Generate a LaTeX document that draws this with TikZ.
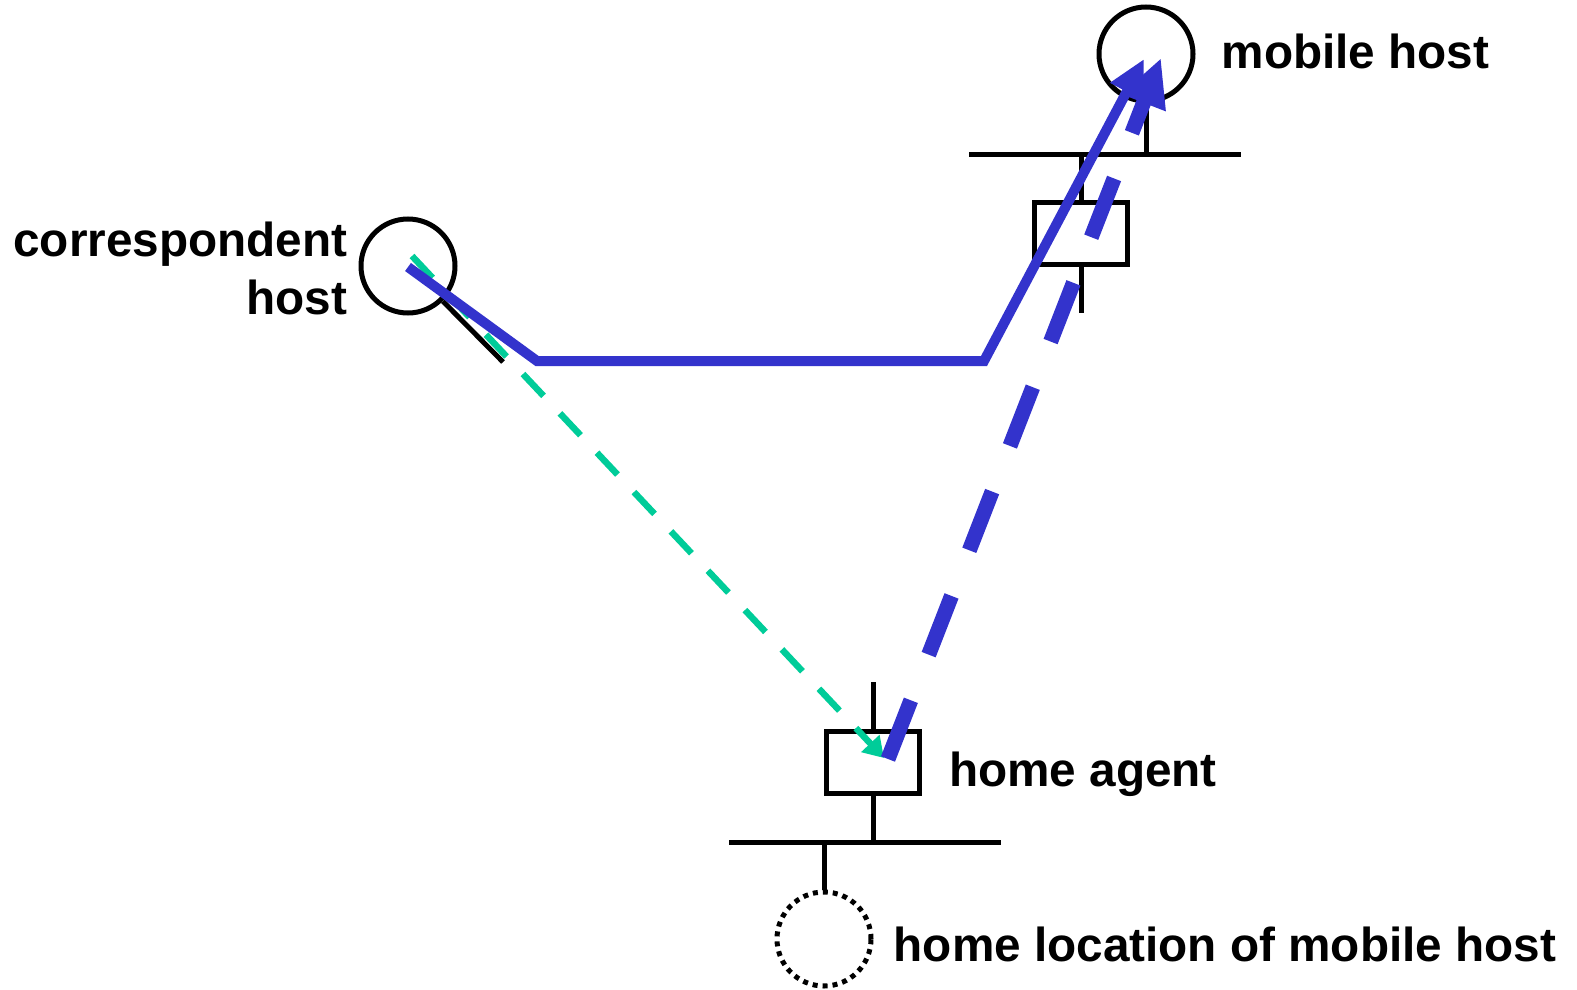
\documentclass[tikz,border=0pt]{standalone}
\usepackage{fontspec}
\setmainfont{Liberation Sans}
\usetikzlibrary{arrows.meta,positioning}
\definecolor{tunnelblue}{RGB}{51,51,204}
\definecolor{agentgreen}{RGB}{0,204,153}

\begin{document}
\begin{tikzpicture}[
  x=1pt, y=-1pt,
  >=Latex,
  every node/.style={font=\fontsize{47.7}{58}\selectfont\bfseries},
  host/.style={circle, draw, line width=5pt, minimum size=94pt, inner sep=0pt},
  router/.style={rectangle, draw, line width=5pt, minimum width=93pt, minimum height=62pt, inner sep=0pt},
  wire/.style={line width=5pt},
  lab/.style={inner sep=0pt},
  direct/.style={tunnelblue, line width=10pt},
  tunnel/.style={tunnelblue, line width=15pt, dash pattern=on 63pt off 49pt},
  toagent/.style={agentgreen, line width=6.5pt, dash pattern=on 30pt off 24pt}
]
\useasboundingbox (0,0) rectangle (1577,990);

% Nodes
\node[host] (CH) at (408,266) {};
\node[host] (MH) at (1146,54) {};
\node[host, dash pattern=on 5pt off 5pt] (HL) at (824,939) {};
\node[router] (FA) at (1081,233) {};
\node[router] (HA) at (873,762) {};

% Labels
\node[lab, right=26pt of MH, yshift=3pt] (MHlab) {mobile host};
\node[lab, left=11pt of CH, align=right, yshift=-2pt] (CHlab) {correspondent\\host};
\node[lab, right=27pt of HA, yshift=-12pt] (HAlab) {home agent};
\node[lab, right=20pt of HL, yshift=-5pt] (HLlab) {home location of mobile host};

% Wires
\coordinate (fbusL) at (969,154);
\coordinate (fbusR) at (1241,154);
\coordinate (hbusL) at (729,842);
\coordinate (hbusR) at (1001,842);
\coordinate (CHleg) at (503,362);
\coordinate (FAleg) at (1081,313);
\coordinate (HAleg) at (873,682);

\draw[wire] (fbusL) -- (fbusR);
\draw[wire] (MH) -- (MH |- fbusL);
\draw[wire] (FA) -- (FA |- fbusL);
\draw[wire] (FA) -- (FAleg);
\draw[wire] (hbusL) -- (hbusR);
\draw[wire] (HA) -- (HA |- hbusL);
\draw[wire] (HA) -- (HAleg);
\draw[wire] (HL) -- (HL |- hbusL);
\draw[wire] (CH) -- (CHleg);

% Paths
\coordinate (CHsrc) at (408,267);
\coordinate (CHgreen) at (412,256);
\coordinate (bendA) at (537,361);
\coordinate (bendB) at (984,361);
\coordinate (MHin) at (1144,59);
\coordinate (MHtun) at (1161,58);
\coordinate (HAin) at (884,758);
\coordinate (HAout) at (888,759);

\draw[toagent, -{Triangle[length=20pt,width=24pt]}] (CHgreen) -- (HAin);
\draw[direct, -{Triangle[length=37pt,width=35pt]}] (CHsrc) -- (bendA) -- (bendB) -- (MHin);
\draw[tunnel, -{Triangle[length=48pt,width=44pt]}] (HAout) -- (MHtun);

\end{tikzpicture}
\end{document}
